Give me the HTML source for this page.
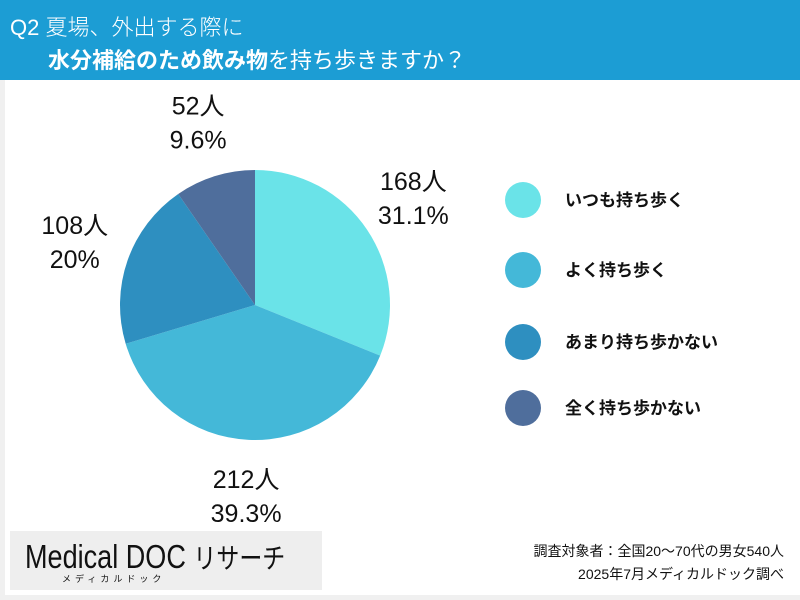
<!DOCTYPE html>
<html><head><meta charset="utf-8"><style>
body{margin:0;width:800px;height:600px;overflow:hidden;background:#f0f0f0;font-family:"Liberation Sans","Noto Sans CJK JP",sans-serif;position:relative}
.hdr{position:absolute;left:0;top:0;width:800px;height:80px;background:#1c9dd4;color:#fff}
.card{position:absolute;left:5px;top:80px;width:795px;height:515px;background:#fff}
.t{position:absolute;font-family:"Liberation Sans","Noto Sans CJK JP",sans-serif}
</style></head><body>
<div class="hdr">
<div class="t" style="left:10px;top:10px;font-size:22px;font-weight:300">Q2 夏場、外出する際に</div>
<div class="t" style="left:48px;top:43px;font-size:22px"><b>水分補給のため飲み物</b>を持ち歩きますか？</div>
</div>
<div class="card"></div>
<svg id="chart" width="800" height="600" style="position:absolute;left:0;top:0"></svg>
<div class="t" style="left:10px;top:531px;width:312px;height:59px;background:#eeeeee"></div>
<div class="t" style="left:25px;top:537px;font-size:33px;color:#111;transform:scaleX(0.82);transform-origin:left top;white-space:nowrap">Medical DOC <span style="font-size:28px">リサーチ</span></div>
<div class="t" style="left:62px;top:572px;font-size:9px;letter-spacing:4px;color:#111">メディカルドック</div>
<div class="t" style="right:16px;top:540px;font-size:14px;text-align:right;line-height:23px;color:#111">調査対象者：全国20〜70代の男女540人<br>2025年7月メディカルドック調べ</div>
<script>
const categories=["いつも持ち歩く","よく持ち歩く","あまり持ち歩かない","全く持ち歩かない"];
const counts=[168,212,108,52];
const percents=["31.1%","39.3%","20%","9.6%"];
const colors=["#6ae3e8","#44b8d8","#2e8fc0","#4f6e9c"];
const NS="http://www.w3.org/2000/svg";
const svg=document.getElementById('chart');
const cx=255,cy=305,r=135;
const total=counts.reduce((a,b)=>a+b,0);
function pt(a,rr){return [cx+rr*Math.sin(a),cy-rr*Math.cos(a)];}
let a0=0;
counts.forEach((v,i)=>{
 const a1=a0+v/total*2*Math.PI;
 const p0=pt(a0,r),p1=pt(a1,r);
 const path=document.createElementNS(NS,'path');
 path.setAttribute('d',`M${cx},${cy}L${p0[0]},${p0[1]}A${r},${r} 0 ${a1-a0>Math.PI?1:0} 1 ${p1[0]},${p1[1]}Z`);
 path.setAttribute('fill',colors[i]);
 
 
 svg.appendChild(path);
 const m=(a0+a1)/2;
 const lp=pt(m,r+56);
 [counts[i]+'人',percents[i]].forEach((s,k)=>{
  const t=document.createElementNS(NS,'text');
  t.setAttribute('x',lp[0]);t.setAttribute('y',lp[1]-8+k*34);
  t.setAttribute('text-anchor','middle');t.setAttribute('font-size','25');t.setAttribute('fill','#111');
  t.textContent=s;
  
  
  svg.appendChild(t);
 });
 a0=a1;
});
const ly=[200,270,342,408];
categories.forEach((c,i)=>{
 const ci=document.createElementNS(NS,'circle');
 ci.setAttribute('cx',523);ci.setAttribute('cy',ly[i]);ci.setAttribute('r',18);ci.setAttribute('fill',colors[i]);
 
 
 svg.appendChild(ci);
 const t=document.createElementNS(NS,'text');
 t.setAttribute('x',565);t.setAttribute('y',ly[i]+6);t.setAttribute('font-size','17');t.setAttribute('font-weight','bold');t.setAttribute('fill','#111');
 t.textContent=c;
 
 
 svg.appendChild(t);
});
</script>
</body></html>
